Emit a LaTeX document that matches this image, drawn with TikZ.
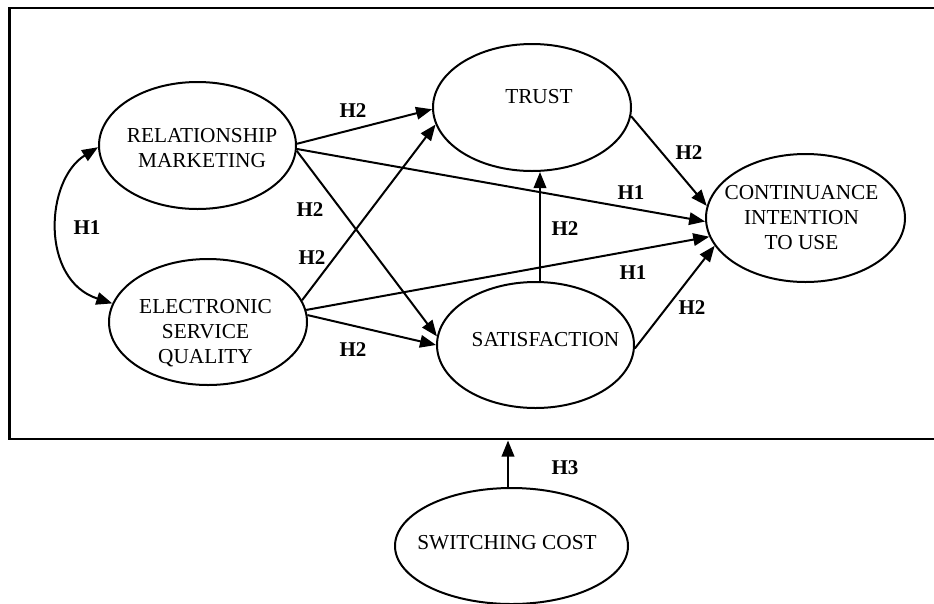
\documentclass[tikz,border=0pt]{standalone}
\usepackage{fontspec}
\setmainfont{Liberation Serif}
\usetikzlibrary{shapes.geometric,arrows.meta}
\begin{document}
\begin{tikzpicture}[x=1pt,y=-1pt,
  ell/.style={draw,ellipse,line width=2pt,inner sep=0pt},
  txt/.style={font=\fontsize{21.3}{25}\selectfont,align=center,inner sep=0pt},
  hyp/.style={font=\fontsize{21}{25}\selectfont\bfseries,inner sep=0pt},
  arr/.style={line width=2pt,-{Triangle[length=16pt,width=12.5pt]}},
  arrboth/.style={line width=2pt,{Triangle[length=16pt,width=12.5pt]}-{Triangle[length=16pt,width=12.5pt]}},
  ]
\useasboundingbox (0,0) rectangle (934,603);
% frame (right side runs off the picture)
\draw[line width=2.5pt] (940,8) -- (9.5,8) -- (9.5,439) -- (940,439);
\coordinate (fb) at (508,440.5);

% ellipses
\node[ell,minimum width=197pt,minimum height=127pt] (rm) at (197.5,145.5) {};
\node[ell,minimum width=198pt,minimum height=126pt] (esq) at (208,322) {};
\node[ell,minimum width=198pt,minimum height=127pt] (trust) at (532,107.5) {};
\node[ell,minimum width=199pt,minimum height=128pt] (cont) at (805.5,218) {};
\node[ell,minimum width=197pt,minimum height=126pt] (sat) at (535.5,345) {};
\node[ell,minimum width=233pt,minimum height=116pt] (swc) at (511.5,546) {};

% texts
\node[txt] (rmt) at (202,148) {RELATIONSHIP\\MARKETING};
\node[txt] (esqt) at (205.5,333) {ELECTRONIC\\SERVICE\\QUALITY};
\node[txt] (trustt) at (539,97) {TRUST};
\node[txt] (contt) at (801.5,218) {CONTINUANCE\\INTENTION\\TO USE};
\node[txt] (satt) at (545.5,340) {SATISFACTION};
\node[txt] (swct) at (507,543) {SWITCHING COST};

% connectors
\draw[arrboth] (rm.181) .. controls (45,180) and (40,280) .. (esq.169);
\draw[arr] (rm.1) -- (trust.181);
\draw[arr] (rm.-2) -- (cont.182);
\draw[arr] (rm.-3) -- (sat.175);
\draw[arr] (esq.13) -- (trust.190);
\draw[arr] (esq.7) -- (cont.191);
\draw[arr] (esq.4) -- (sat.180);
\path ([xshift=4.5pt]sat.north) coordinate (sv);
\draw[arr] (sv) -- (sv |- trust.south);
\draw[arr] (trust.-5) -- (cont.173);
\draw[arr] (sat.-2) -- (cont.197);
\draw[arr] (swc.north -| fb) -- (fb);

% hypothesis labels
\node[hyp] (l1) at (353,111) {H2};
\node[hyp] (l2) at (310,210) {H2};
\node[hyp] (l3) at (312,258) {H2};
\node[hyp] (l4) at (87,228) {H1};
\node[hyp] (l5) at (689,153) {H2};
\node[hyp] (l6) at (631,193) {H1};
\node[hyp] (l7) at (565,229) {H2};
\node[hyp] (l8) at (633,273) {H1};
\node[hyp] (l9) at (353,350) {H2};
\node[hyp] (l10) at (692,308) {H2};
\node[hyp] (l11) at (565,468) {H3};
\end{tikzpicture}
\end{document}
